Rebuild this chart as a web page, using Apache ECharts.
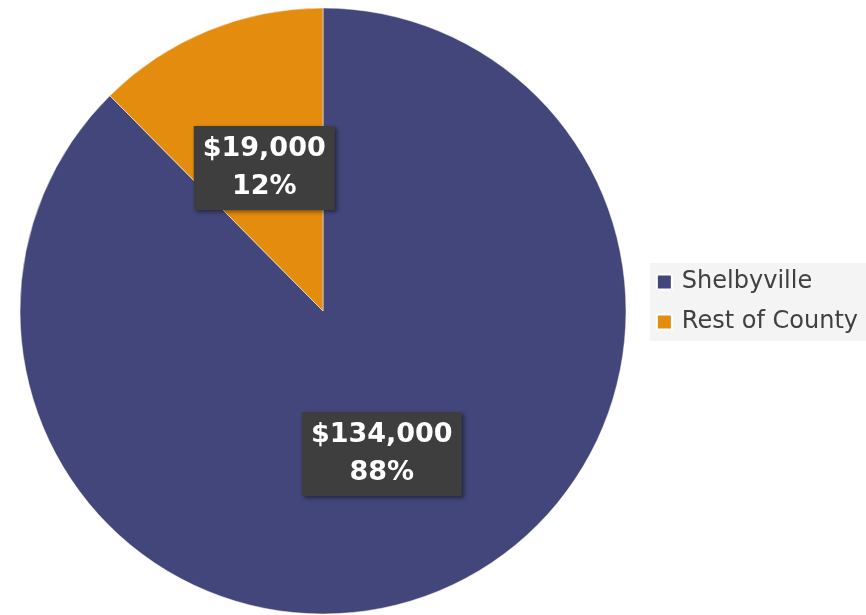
<!DOCTYPE html>
<html><head><meta charset="utf-8">
<script src="https://cdn.jsdelivr.net/npm/echarts@6/dist/echarts.min.js"></script>
<style>html,body{margin:0;padding:0;background:#fff}#c{width:866px;height:615px}</style>
</head><body><div id="c"></div>
<script>
const categories = ['Shelbyville', 'Rest of County'];
const values = [134000, 19000];
const colors = ['#43467a', '#e38c0d'];

const chart = echarts.init(document.getElementById('c'));
chart.setOption({
  animation: false,
  color: colors,
  legend: {
    orient: 'vertical',
    right: 0,
    top: 263,
    backgroundColor: '#f4f4f4',
    padding: [7, 8, 7, 6],
    itemGap: 16,
    icon: 'rect',
    itemWidth: 15,
    itemHeight: 15,
    textStyle: { fontFamily: '"DejaVu Sans", sans-serif', fontSize: 24, color: '#404040', padding: [0, 0, 0, 5] },
    data: categories
  },
  series: [{
    type: 'pie',
    center: [323, 311],
    radius: [0, 303],
    startAngle: 90,
    clockwise: true,
    data: categories.map((c, i) => ({ name: c, value: values[i] })),
    itemStyle: { borderColor: '#ffffff', borderWidth: 0.5 },
    label: {
      position: 'inside',
      formatter: p => '$' + p.value.toLocaleString('en-US') + '\n' + Math.round(p.percent) + '%',
      fontFamily: '"DejaVu Sans", sans-serif',
      fontWeight: 'bold',
      fontSize: 27,
      lineHeight: 38,
      color: '#ffffff',
      backgroundColor: '#3e3e3e',
      padding: [4, 9, 4, 9],
      shadowColor: 'rgba(0,0,0,0.45)',
      shadowBlur: 4,
      shadowOffsetX: 2,
      shadowOffsetY: 2
    },
    labelLine: { show: false }
  }]
});
</script></body></html>
